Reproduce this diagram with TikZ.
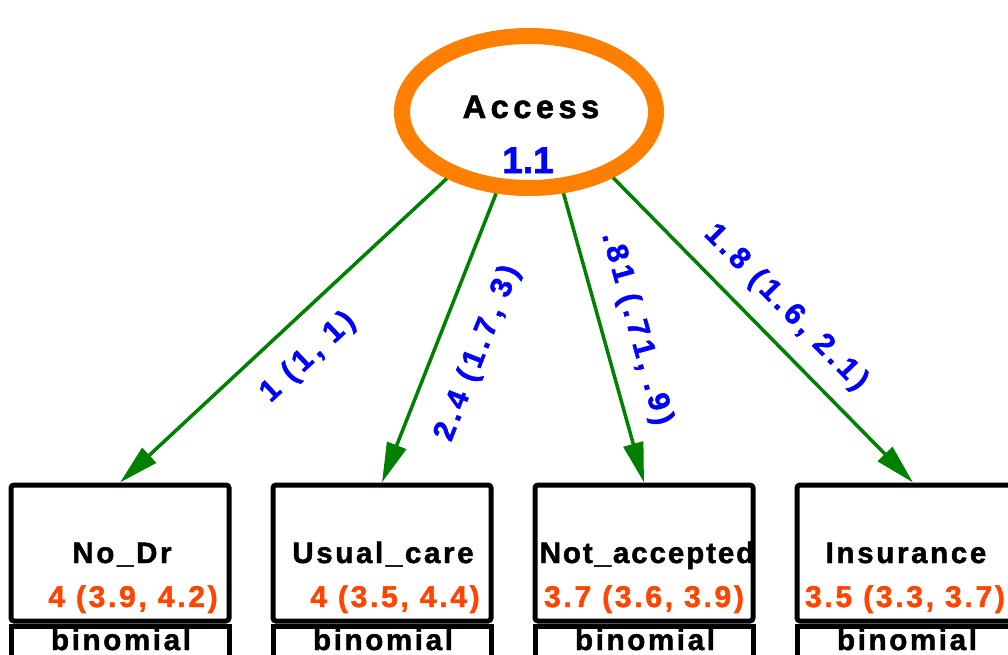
\documentclass[tikz,border=0pt]{standalone}
\usepackage{fontspec}
\setmainfont{Liberation Sans}
\newfontfamily\boxfont{Liberation Sans Bold}[LetterSpace=9,FakeBold=1.6]
\newfontfamily\narrowboxfont{Liberation Sans Bold}[LetterSpace=6.5,FakeBold=1.6]
\newfontfamily\edgefont{Liberation Sans Bold}[LetterSpace=15,FakeBold=1.6]
\newfontfamily\titlefont{Liberation Sans Bold}[LetterSpace=14,FakeBold=1.8]
\newfontfamily\numfont{Liberation Sans Bold}[FakeBold=1.8]
\usetikzlibrary{arrows.meta,shapes.geometric}

\definecolor{pathgreen}{RGB}{0,128,0}
\definecolor{latentorange}{RGB}{255,128,0}
\definecolor{estorange}{RGB}{255,69,0}
\definecolor{estblue}{RGB}{0,0,255}

\begin{document}
\begin{tikzpicture}[x=1pt,y=-1pt,
  latent/.style={ellipse, draw=latentorange, line width=16pt,
    minimum width=254pt, minimum height=152pt, inner sep=0pt},
  obsbox/.style={rectangle, draw=black, line width=5pt, rounded corners=3pt,
    minimum width=218pt, minimum height=136pt, inner sep=0pt},
  distbox/.style={rectangle, draw=black, line width=5pt,
    minimum width=218pt, minimum height=100pt, inner sep=0pt, anchor=north},
  varname/.style={anchor=base, inner sep=0pt,
    font={\boxfont\fontsize{29.5pt}{34pt}\selectfont}},
  longname/.style={anchor=base, inner sep=0pt,
    font={\narrowboxfont\fontsize{29.5pt}{34pt}\selectfont}},
  estimate/.style={anchor=base, inner sep=0pt, text=estorange,
    font={\boxfont\fontsize{30pt}{34pt}\selectfont}},
  title/.style={anchor=base, inner sep=0pt,
    font={\titlefont\fontsize{32.5pt}{38pt}\selectfont}},
  variance/.style={anchor=base, inner sep=0pt, text=estblue,
    font={\numfont\fontsize{37pt}{42pt}\selectfont}},
  loading/.style={pathgreen, line width=3.5pt,
    -{Triangle[length=40pt,width=20pt]}},
  coef/.style={sloped, pos=0.5, inner sep=0pt, text=estblue,
    font={\edgefont\fontsize{30pt}{34pt}\selectfont}}
]
\useasboundingbox (0,0) rectangle (1008,655);
\clip (0,0) rectangle (1008,655);

% latent factor
\node[latent] (acc) at (529,112) {};
\node[title] (accname) at (531,118) {Access};
\node[variance] (accvar) at (528,173) {1.1};

% indicator boxes
\node[obsbox] (b1) at (120,553) {};
\node[obsbox] (b2) at (382,553) {};
\node[obsbox] (b3) at (644,553) {};
\node[obsbox] (b4) at (906,553) {};

\node[distbox] (d1) at (b1.south) {};
\node[distbox] (d2) at (b2.south) {};
\node[distbox] (d3) at (b3.south) {};
\node[distbox] (d4) at (b4.south) {};

\node[varname] (n1) at (122,563) {No\_Dr};
\node[varname] (n2) at (383,563) {Usual\_care};
\node[longname] (n3) at (647,563) {Not\_accepted};
\node[varname] (n4) at (906,563) {Insurance};

\node[estimate] (v1) at (133,607) {4 (3.9, 4.2)};
\node[estimate] (v2) at (395,607) {4 (3.5, 4.4)};
\node[estimate] (v3) at (644,607) {3.7 (3.6, 3.9)};
\node[estimate] (v4) at (905,607) {3.5 (3.3, 3.7)};

\node[varname] (t1) at (121,650) {binomial};
\node[varname] (t2) at (383,650) {binomial};
\node[varname] (t3) at (645,650) {binomial};
\node[varname] (t4) at (907,650) {binomial};

% factor loadings
\draw[loading] (acc.-141) -- (b1.north)
  node[coef, below=21pt] (l1) {1 (1, 1)};
\draw[loading] (acc.-112.5) -- (b2.north)
  node[coef, below=26pt] (l2) {2.4 (1.7, 3)};
\draw[loading] (acc.-67) -- (b3.north)
  node[coef, above=18pt] (l3) {.81 (.71, .9)};
\draw[loading] (acc.-38) -- ([xshift=7pt]b4.north)
  node[coef, above=16pt] (l4) {1.8 (1.6, 2.1)};
\end{tikzpicture}
\end{document}
